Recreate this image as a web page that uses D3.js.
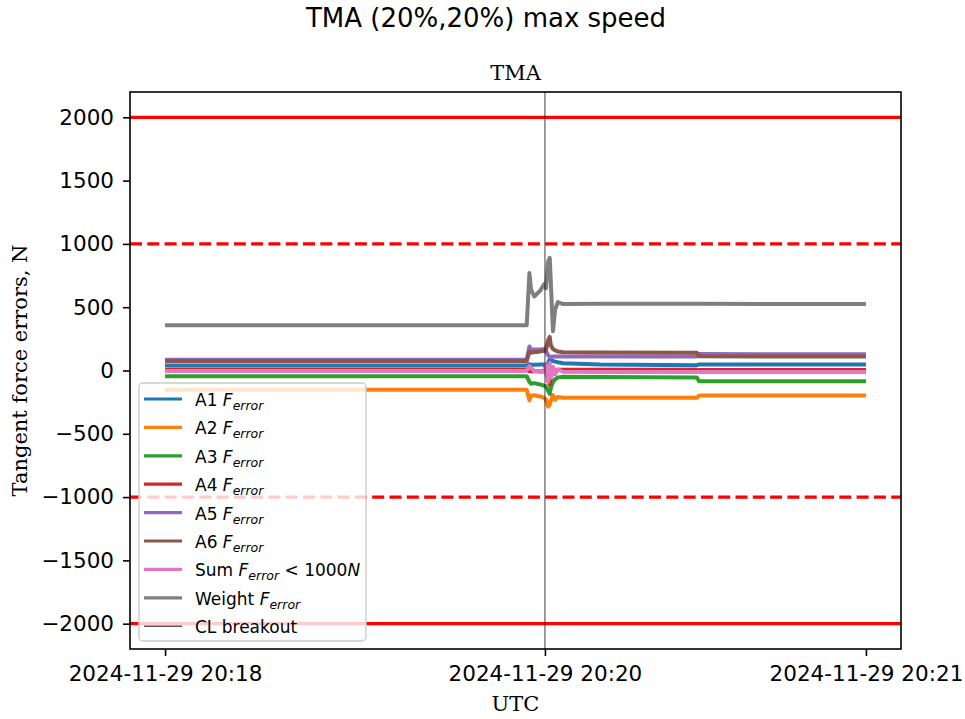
<!DOCTYPE html>
<html>
<head>
<meta charset="utf-8">
<script src="https://cdn.jsdelivr.net/npm/d3@7"></script>
<style>
  body { margin: 0; background: #fff; }
  text { fill: #000; }
</style>
</head>
<body>
<svg id="chart"></svg>
<script>
// time axis: seconds after the first sample
const startTime = Date.UTC(2024, 10, 29, 20, 18, 54);
const breakoutSec = 71.0;
const endSec = 131;

const tSec = [0, 67.6, 68.1, 68.4, 69.0, 70.1, 70.8, 71.2, 71.6, 71.9, 72.1, 72.5, 72.9, 73.4, 74.4, 81.3, 99.4, 99.8, 131];

const a1 = [40, 40, 50, 45, 45, 47, 47, 20, 60, 90, 80, 75, 70, 65, 58, 47, 42, 48, 47];
const a2 = [-152, -152, -235, -200, -195, -205, -215, -230, -285, -270, -240, -195, -230, -210, -215, -215, -215, -198, -198];
const a3 = [-45, -45, -90, -105, -100, -110, -120, -125, -160, -185, -140, -90, -70, -55, -50, -52, -55, -85, -85];
const a4 = [5, 5, -5, -5, -5, -5, -5, -10, -60, -110, -50, -10, 3, 5, 5, 5, 5, 3, 3];
const a5 = [85, 85, 190, 165, 165, 165, 170, 150, 120, 110, 105, 110, 110, 110, 110, 110, 110, 130, 128];
const a6 = [75, 75, 150, 140, 145, 150, 155, 160, 240, 265, 200, 170, 160, 150, 145, 142, 140, 112, 110];
const sumErr = [-3, -3, 35, 20, -5, -10, -10, 40, -90, 60, -60, 30, -30, 10, -10, -12, -12, -12, -12];
const weightErr = [358, 358, 770, 640, 585, 630, 680, 650, 860, 890, 700, 310, 480, 540, 525, 528, 527, 527, 525];

const seriesNames = ['A1', 'A2', 'A3', 'A4', 'A5', 'A6', 'Sum', 'Weight'];
const seriesValues = [a1, a2, a3, a4, a5, a6, sumErr, weightErr];
const seriesColors = ['#1f77b4', '#ff7f0e', '#2ca02c', '#d62728', '#9467bd', '#8c564b', '#e377c2', '#7f7f7f'];

const yTicks = [-2000, -1500, -1000, -500, 0, 500, 1000, 1500, 2000];
const solidLimits = [2000, -2000];
const dashedLimits = [1000, -1000];

const W = 965, H = 719;
const pLeft = 130, pRight = 901, pTop = 92, pBottom = 649;
const sans = 'DejaVu Sans, sans-serif';
const serif = 'DejaVu Serif, serif';

const svg = d3.select('#chart').attr('width', W).attr('height', H);

const toDate = s => new Date(startTime + s * 1000);
const x = d3.scaleUtc()
    .domain([toDate(-0.05 * endSec), toDate(1.05 * endSec)])
    .range([pLeft, pRight]);
const y = d3.scaleLinear()
    .domain([-2200, 2200])
    .range([pBottom, pTop]);

// data lines
const line = d3.line()
    .x(d => x(toDate(d[0])))
    .y(d => y(d[1]));

seriesValues.forEach((vals, i) => {
    svg.append('path')
        .datum(tSec.map((t, j) => [t, vals[j]]))
        .attr('d', line)
        .attr('fill', 'none')
        .attr('stroke', seriesColors[i])
        .attr('stroke-width', 4)
        .attr('stroke-linejoin', 'round');
});

// limit lines
svg.selectAll('.solid-limit')
    .data(solidLimits)
    .enter().append('line')
    .attr('x1', pLeft).attr('x2', pRight)
    .attr('y1', d => y(d)).attr('y2', d => y(d))
    .attr('stroke', '#ff0000')
    .attr('stroke-width', 3.2);

svg.selectAll('.dashed-limit')
    .data(dashedLimits)
    .enter().append('line')
    .attr('x1', pLeft).attr('x2', pRight)
    .attr('y1', d => y(d)).attr('y2', d => y(d))
    .attr('stroke', '#ff0000')
    .attr('stroke-width', 3.2)
    .attr('stroke-dasharray', '12,5.3');

// CL breakout
svg.append('line')
    .attr('x1', x(toDate(breakoutSec))).attr('x2', x(toDate(breakoutSec)))
    .attr('y1', pTop).attr('y2', pBottom)
    .attr('stroke', '#000')
    .attr('stroke-opacity', 0.55)
    .attr('stroke-width', 1.4);

// axes
const yAxis = svg.append('g')
    .attr('transform', `translate(${pLeft},0)`)
    .call(d3.axisLeft(y)
        .tickValues(yTicks)
        .tickSize(7)
        .tickPadding(9)
        .tickFormat(d => d < 0 ? '\u2212' + Math.abs(d) : d));

const xAxis = svg.append('g')
    .attr('transform', `translate(0,${pBottom})`)
    .call(d3.axisBottom(x)
        .tickValues([0, breakoutSec, endSec].map(toDate))
        .tickSize(7)
        .tickPadding(10)
        .tickFormat(d3.utcFormat('%Y-%m-%d %H:%M')));

[xAxis, yAxis].forEach(g => {
    g.select('.domain').remove();
    g.selectAll('line').attr('stroke', '#000').attr('stroke-width', 1.6);
    g.selectAll('text')
        .style('font-family', sans)
        .style('font-size', '21.5px')
        .attr('fill', '#000');
});

svg.append('rect')
    .attr('x', pLeft).attr('y', pTop)
    .attr('width', pRight - pLeft).attr('height', pBottom - pTop)
    .attr('fill', 'none')
    .attr('stroke', '#000')
    .attr('stroke-width', 1.6);

// titles
svg.append('text')
    .attr('x', 486).attr('y', 27)
    .attr('text-anchor', 'middle')
    .style('font-family', sans)
    .style('font-size', '26px')
    .text('TMA (20%,20%) max speed');

svg.append('text')
    .attr('x', (pLeft + pRight) / 2).attr('y', 80)
    .attr('text-anchor', 'middle')
    .style('font-family', serif)
    .style('font-size', '21px')
    .text('TMA');

svg.append('text')
    .attr('x', (pLeft + pRight) / 2).attr('y', 711)
    .attr('text-anchor', 'middle')
    .style('font-family', serif)
    .style('font-size', '21px')
    .text('UTC');

svg.append('text')
    .attr('transform', `translate(27,${(pTop + pBottom) / 2}) rotate(-90)`)
    .attr('text-anchor', 'middle')
    .style('font-family', serif)
    .style('font-size', '21px')
    .text('Tangent force errors, N');

// legend
const legend = svg.append('g').attr('transform', 'translate(139,383)');
legend.append('rect')
    .attr('width', 227).attr('height', 258)
    .attr('rx', 4)
    .attr('fill', '#fff').attr('fill-opacity', 0.8)
    .attr('stroke', '#ccc').attr('stroke-width', 1.4);

const rowH = 28.4;
const legendItems = seriesNames.map((n, i) => ({ name: n, color: seriesColors[i], w: 3.2 }))
    .concat([{ name: 'CL breakout', color: '#555', w: 1.5 }]);

legendItems.forEach((d, i) => {
    const cy = 16 + i * rowH;
    legend.append('line')
        .attr('x1', 5).attr('x2', 43)
        .attr('y1', cy).attr('y2', cy)
        .attr('stroke', d.color)
        .attr('stroke-width', d.w);
    const t = legend.append('text')
        .attr('x', 56).attr('y', cy + 7)
        .style('font-family', sans)
        .style('font-size', '17px');
    if (d.name === 'CL breakout') {
        t.text(d.name);
        return;
    }
    t.append('tspan').text(d.name + ' ');
    t.append('tspan').style('font-style', 'italic').text('F');
    t.append('tspan').style('font-style', 'italic').style('font-size', '12.5px')
        .attr('dy', 4).text('error');
    if (d.name === 'Sum') {
        t.append('tspan').attr('dy', -4).text(' < 1000');
        t.append('tspan').style('font-style', 'italic').text('N');
    }
});
</script>
</body>
</html>
